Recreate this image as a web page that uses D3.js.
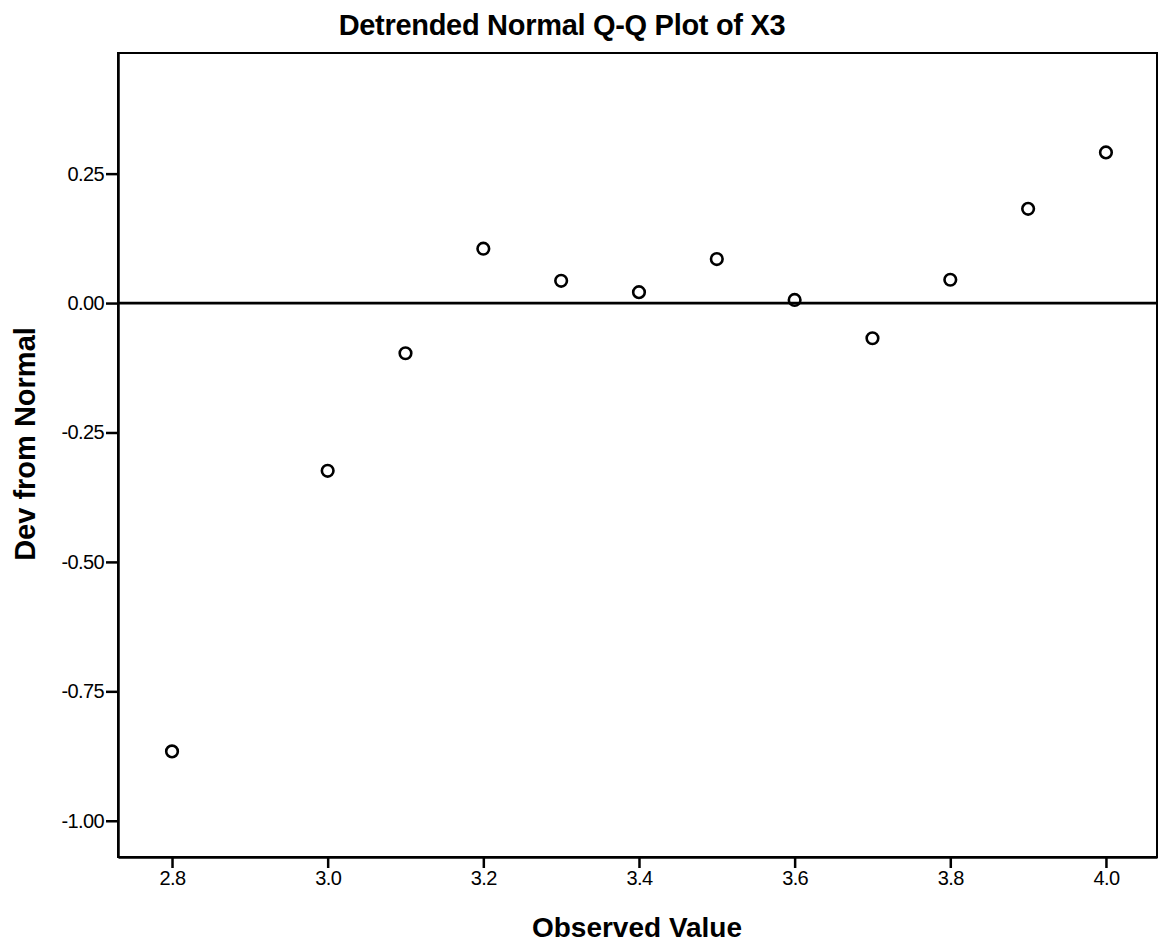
<!DOCTYPE html>
<html><head><meta charset="utf-8">
<script src="https://cdn.jsdelivr.net/npm/d3@7"></script>
<style>body{margin:0;background:#fff;} text{font-family:"Liberation Sans",Arial,sans-serif;}</style>
</head><body>
<svg id="c" width="1163" height="945"></svg>
<script>
const observed = [2.8, 3.0, 3.1, 3.2, 3.3, 3.4, 3.5, 3.6, 3.7, 3.8, 3.9, 4.0];
const devFromNormal = [-0.866, -0.324, -0.097, 0.105, 0.043, 0.021, 0.085, 0.006, -0.068, 0.045, 0.182, 0.291];
const xTicks = [2.8, 3.0, 3.2, 3.4, 3.6, 3.8, 4.0];
const yTicks = [0.25, 0.00, -0.25, -0.50, -0.75, -1.00];

const svg = d3.select("#c");
const L = 118, R = 1157, T = 53, B = 857;
const x = d3.scaleLinear().domain([2.7306, 4.0656]).range([L, R]);
const y = d3.scaleLinear().domain([-1.07, 0.483]).range([B, T]);

svg.append("rect").attr("x", L).attr("y", T).attr("width", R - L).attr("height", B - T)
  .attr("fill", "none").attr("stroke", "#000").attr("stroke-width", 2);

const xa = svg.append("g").attr("transform", `translate(0,${B})`)
  .call(d3.axisBottom(x).tickValues(xTicks).tickFormat(d3.format(".1f")).tickSize(11).tickSizeOuter(0));
const ya = svg.append("g").attr("transform", `translate(${L},0)`)
  .call(d3.axisLeft(y).tickValues(yTicks).tickFormat(d => d.toFixed(2)).tickSize(12).tickSizeOuter(0).tickPadding(2));
[xa, ya].forEach(a => {
  a.select(".domain").attr("stroke", "#000").attr("stroke-width", 2.5);
  a.selectAll(".tick line").attr("stroke", "#000").attr("stroke-width", 2.5);
  a.selectAll(".tick text").attr("fill", "#000").style("font-size", "20px")
   .style("font-family", "'Liberation Sans',Arial,sans-serif").style("letter-spacing", "-0.6px");
});

svg.append("line").attr("x1", L).attr("x2", R).attr("y1", y(0)).attr("y2", y(0))
  .attr("stroke", "#000").attr("stroke-width", 2.8);

svg.append("g").selectAll("circle").data(observed).join("circle")
  .attr("cx", (d) => x(d)).attr("cy", (d, i) => y(devFromNormal[i])).attr("r", 5.8)
  .attr("fill", "none").attr("stroke", "#000").attr("stroke-width", 2.6);

svg.append("text").attr("x", 562).attr("y", 35).attr("text-anchor", "middle")
  .style("font-size", "29px").style("font-weight", "bold").style("letter-spacing", "-0.3px").text("Detrended Normal Q-Q Plot of X3");
svg.append("text").attr("x", 637).attr("y", 937).attr("text-anchor", "middle")
  .style("font-size", "28px").style("font-weight", "bold").text("Observed Value");
svg.append("text").attr("transform", "translate(35,444) rotate(-90)").attr("text-anchor", "middle")
  .style("font-size", "29px").style("font-weight", "bold").text("Dev from Normal");
</script>
</body></html>
